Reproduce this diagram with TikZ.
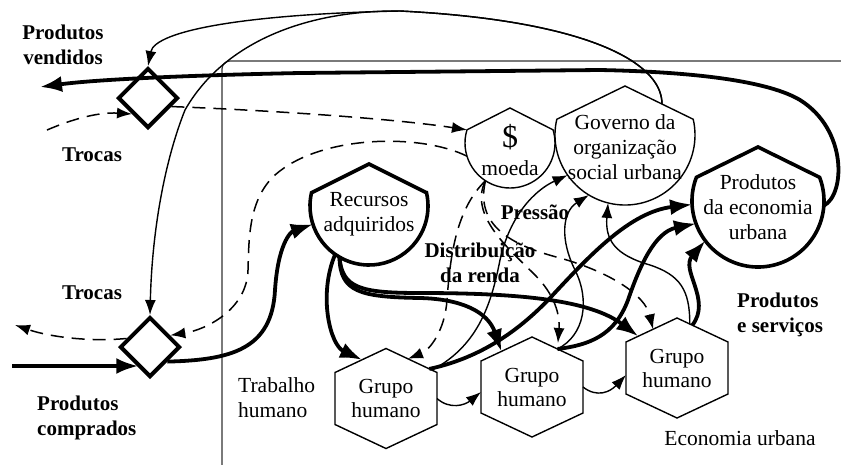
\documentclass[tikz,border=0pt]{standalone}
\usepackage{fontspec}
\setmainfont{LiberationSerif}[Extension=.ttf, UprightFont=*-Regular, BoldFont=*-Bold, ItalicFont=*-Italic, BoldItalicFont=*-BoldItalic]
\usetikzlibrary{shapes.geometric,arrows.meta,calc}
\tikzset{
  thickln/.style={line width=3.8pt},
  thinln/.style={line width=1.4pt},
  dashln/.style={line width=1.5pt, dash pattern=on 13pt off 8pt},
  bigtip/.style={-{Latex[length=22pt,width=16pt]}},
  smalltip/.style={-{Latex[length=15pt,width=11pt]}},
  lbl/.style={font=\fontsize{21}{25}\selectfont\bfseries, align=center, inner sep=0},
  txt/.style={font=\fontsize{21.5}{25}\selectfont, align=center, inner sep=0},
  anchorcirc/.style={circle, minimum size=#1, inner sep=0, outer sep=0},
  diam/.style={diamond, draw, line width=4pt, minimum width=60pt, minimum height=60pt, inner sep=0},
  hexbox/.style={rectangle, minimum width=102pt, minimum height=100pt, inner sep=0, outer sep=0,
    align=center, font=\fontsize{21.5}{24}\selectfont},
  frameln/.style={line width=1.2pt, black!80, rounded corners=8pt},
}
\begin{document}
\begin{tikzpicture}[x=1pt,y=1pt]
\useasboundingbox (0,-464) rectangle (841,0);
\clip (0,-464) rectangle (841,0);

% frame of the urban economy
\coordinate (fr1) at (222,-470);
\coordinate (fr2) at (222,-61);
\coordinate (fr3) at (850,-61);
\draw[frameln] (fr1) -- (fr2) -- (fr3);

% geometry nodes
\node[anchorcirc=118pt] (R) at (369,-206) {};
\node[anchorcirc=90pt] (M) at (510,-143) {};
\node[anchorcirc=140pt] (G) at (625,-135) {};
\node[anchorcirc=132pt] (E) at (758,-201) {};
\node[diam] (D1) at (148,-98) {};
\node[diam] (D2) at (150,-347) {};
\node[hexbox] (H1) at (386,-398.5) {Grupo\\humano};
\node[hexbox] (H2) at (532,-387) {Grupo\\humano};
\node[hexbox] (H3) at (677,-368) {Grupo\\humano};

% house shaped nodes
\draw[line width=3.6pt] (R.13) -- ($(R.center)+(0,42)$) -- (R.167) arc[start angle=167, end angle=373, radius=59pt] -- cycle;
\draw[thinln] (M.17) -- ($(M.center)+(0,35)$) -- (M.163) arc[start angle=163, end angle=377, radius=45pt] -- cycle;
\draw[thinln] (G.13) -- ($(G.center)+(0,49)$) -- (G.167) arc[start angle=167, end angle=373, radius=70pt] -- cycle;
\draw[line width=3.6pt] (E.21) -- ($(E.center)+(0,54)$) -- (E.159) arc[start angle=159, end angle=381, radius=66pt] -- cycle;

% hexagons
\foreach \h in {H1,H2,H3} {
  \coordinate (\h-n) at ($(\h.center)+(0,50)$);
  \coordinate (\h-ne) at ($(\h.center)+(51,26)$);
  \coordinate (\h-se) at ($(\h.center)+(51,-26)$);
  \coordinate (\h-s) at ($(\h.center)+(0,-50)$);
  \coordinate (\h-sw) at ($(\h.center)+(-51,-26)$);
  \coordinate (\h-nw) at ($(\h.center)+(-51,26)$);
  \draw[thinln] (\h-n) -- (\h-ne) -- (\h-se) -- (\h-s) -- (\h-sw) -- (\h-nw) -- cycle;
}

% texts
\node[txt] (Rt) at (369,-214) {Recursos\\adquiridos};
\node[font=\fontsize{32}{32}\selectfont, inner sep=0] (Md) at (510,-137) {\$};
\node[txt] (Mt) at (510,-168) {moeda};
\node[txt] (Gt) at (625,-147) {Governo da\\organização\\social urbana};
\node[txt] (Et) at (758,-207) {Produtos\\da economia\\urbana};
\node[lbl] (lPV) at (63,-45) {Produtos\\vendidos};
\node[lbl] (lT1) at (92,-155) {Trocas};
\node[lbl] (lT2) at (92,-293) {Trocas};
\node[lbl, align=left, anchor=west] (lPC) at (37,-418) {Produtos\\comprados};
\node[txt, align=left, anchor=west] (lTH) at (238,-398) {Trabalho\\humano};
\node[txt] (lEU) at (740,-438) {Economia urbana};
\node[lbl] (lPr) at (535,-212) {Pressão};
\node[lbl] (lDR) at (480,-263) {Distribuição\\da renda};
\node[lbl, align=left, anchor=west] (lPS) at (737,-315) {Produtos\\e serviços};

% Produtos vendidos (thick, out of the economy)
\coordinate (pv) at (40,-87);
\draw[thickln,bigtip] (E.-4) .. controls (845,-195) and (848,-130) .. (800,-100)
  .. controls (770,-82) and (700,-72) .. (600,-70) -- (300,-73)
  .. controls (200,-75) and (100,-79) .. (pv);

% Governo -> diamonds (thin)
\coordinate (Gtop) at ($(G.center)+(37,31)$);
\draw[thinln,smalltip] (Gtop) .. controls (662,-60) and (580,-20) .. (400,-11)
  .. controls (250,-14) and (155,-30) .. (D1.north);
\draw[thinln,smalltip] (Gtop) .. controls (662,-60) and (580,-20) .. (400,-11)
  .. controls (310,-10) and (225,-40) .. (185,-110)
  .. controls (165,-160) and (152,-230) .. (D2.north);

% Trocas (dashed)
\coordinate (tr1) at (47,-130);
\draw[dashln,smalltip] (tr1) .. controls (75,-118) and (100,-112) .. (D1.south west);
\draw[dashln,smalltip] (D1.-20) .. controls (260,-110) and (390,-118) .. (M.163);
\draw[dashln,smalltip] (M.197) .. controls (420,-133) and (320,-135) .. (275,-175)
  .. controls (248,-200) and (249,-240) .. (248,-270)
  .. controls (247,-310) and (205,-330) .. (D2.30);
\coordinate (tr2) at (15,-325);
\draw[dashln,smalltip] (D2.160) .. controls (90,-342) and (50,-337) .. (tr2);

% Produtos comprados
\coordinate (pc) at (12,-366);
\draw[thickln,bigtip] (pc) -- (pc -| D2.240);

% diamond -> Recursos
\draw[thickln,bigtip] (D2.-40) .. controls (230,-360) and (272,-350) .. (275,-290)
  .. controls (278,-245) and (290,-232) .. (R.198);

% Recursos -> groups
\draw[thickln,bigtip] (R.235) .. controls (318,-295) and (330,-345) .. ($(H1-nw)!0.53!(H1-n)$);
\draw[thickln,bigtip] (R.240) .. controls (340,-292) and (360,-297) .. (420,-298)
  .. controls (462,-299) and (488,-312) .. ($(H2-nw)!0.4!(H2-n)$);
\draw[thickln,bigtip] (R.240) .. controls (342,-288) and (360,-293) .. (420,-293)
  .. controls (520,-293) and (590,-300) .. ($(H3-nw)!0.24!(H3-n)$);

% groups -> Produtos da economia urbana
\draw[thickln,bigtip] ($(H1-n)!0.85!(H1-ne)$) .. controls (470,-360) and (510,-340) .. (550,-298)
  .. controls (590,-255) and (630,-212) .. (E.183);
\draw[thickln,bigtip] ($(H2-n)!0.5!(H2-ne)$) .. controls (590,-345) and (615,-335) .. (628,-300)
  .. controls (640,-265) and (655,-232) .. (E.200);
\draw[thickln,bigtip] ($(H3-n)!0.3!(H3-ne)$) .. controls (712,-300) and (680,-270) .. (E.217);

% Pressao: groups -> Governo
\draw[thinln,smalltip] ($(H1-n)!0.9!(H1-ne)$) .. controls (480,-345) and (492,-300) .. (500,-260)
  .. controls (510,-215) and (535,-190) .. (G.215);
\draw[thinln,smalltip] ($(H2-n)!0.5!(H2-ne)$) .. controls (585,-335) and (590,-300) .. (575,-270)
  .. controls (560,-240) and (562,-212) .. (G.239);
\draw[thinln,smalltip] ($(H3-n)!0.25!(H3-ne)$) .. controls (690,-290) and (680,-275) .. (650,-265)
  .. controls (615,-255) and (605,-240) .. (G.256);

% Distribuicao da renda: moeda -> groups
\draw[dashln,smalltip] (M.237) .. controls (455,-210) and (450,-260) .. (447,-300)
  .. controls (445,-330) and (430,-350) .. ($(H1-n)!0.43!(H1-ne)$);
\draw[dashln,smalltip,shorten >=6pt] (M.237) .. controls (468,-215) and (510,-250) .. (535,-275)
  .. controls (555,-295) and (560,-315) .. ($(H2-n)!0.5!(H2-ne)$);
\draw[dashln,smalltip] (M.237) .. controls (475,-225) and (510,-245) .. (560,-258)
  .. controls (610,-272) and (645,-295) .. ($(H3-nw)!0.53!(H3-n)$);

% between groups
\draw[thinln,smalltip] (H1.east) .. controls (450,-410) and (465,-405) .. ($(H2.west)+(0,-5)$);
\draw[thinln,smalltip] (H2.east) .. controls (597,-398) and (610,-392) .. ($(H3.west)+(0,-7)$);
\end{tikzpicture}
\end{document}
